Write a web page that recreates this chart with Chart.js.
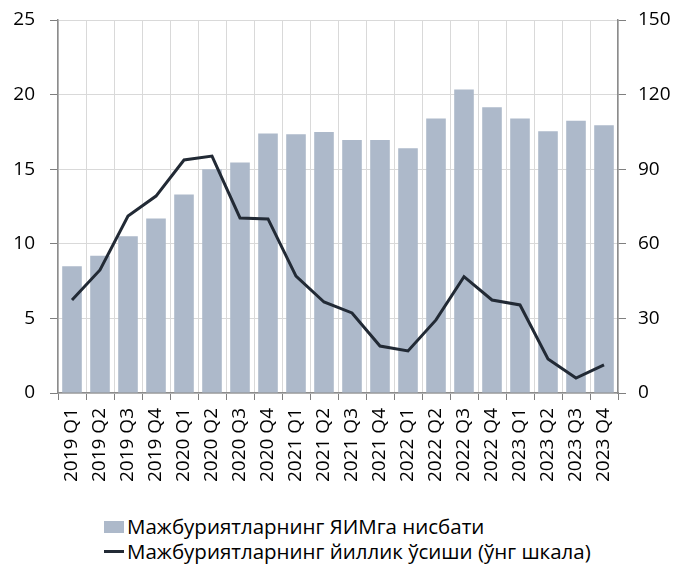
<!DOCTYPE html>
<html>
<head>
<meta charset="utf-8">
<script src="https://cdn.jsdelivr.net/npm/chart.js@4"></script>
<style>
  body { margin: 0; background: #fff; font-family: "Open Sans", sans-serif; }
  #wrap { position: relative; width: 676px; height: 564px; }
  #legend { position: absolute; left: 104px; top: 514px; font-size: 20.5px; color: #000; line-height: 25px; }
  .item { display: flex; align-items: center; white-space: nowrap; }
  .sw { display: inline-block; width: 20px; margin-right: 3px; }
</style>
</head>
<body>
<div id="wrap">
  <canvas id="chart" width="676" height="500"></canvas>
  <div id="legend"></div>
</div>
<script>
const labels = ['2019 Q1', '2019 Q2', '2019 Q3', '2019 Q4', '2020 Q1', '2020 Q2', '2020 Q3', '2020 Q4',
  '2021 Q1', '2021 Q2', '2021 Q3', '2021 Q4', '2022 Q1', '2022 Q2', '2022 Q3', '2022 Q4',
  '2023 Q1', '2023 Q2', '2023 Q3', '2023 Q4']

// ratio to GDP, left scale
const ratio = [8.5, 9.2, 10.5, 11.7, 13.3, 15.0, 15.45, 17.4, 17.35, 17.5, 16.95, 16.95,
  16.4, 18.4, 20.35, 19.15, 18.4, 17.55, 18.25, 17.95]
// annual growth, right scale
const growth = [37.4, 49.5, 71.2, 79.2, 93.7, 95.3, 70.4, 70.0, 47.0, 36.6, 32.2, 18.9,
  16.9, 29.4, 46.8, 37.4, 35.4, 13.7, 6.0, 11.3]

const leftTicks = [0, 5, 10, 15, 20, 25]
const rightTicks = [0, 30, 60, 90, 120, 150]

const names = ['Мажбуриятларнинг ЯИМга нисбати', 'Мажбуриятларнинг йиллик ўсиши (ўнг шкала)']

const barColor = '#adb9ca'
const lineColor = '#222a35'
const tickFont = { family: '"Open Sans", sans-serif', size: 19 }

// fixed widths, and keep the tick padding from pushing the plot down
function fitY(s) {
    s.width = 58
    s.paddingTop = 12
    s.paddingBottom = 12
}

const ctx = document.getElementById('chart')

new Chart(ctx, {
    type: 'bar',
    data: {
        labels: labels,
        datasets: [{
            type: 'line',
            label: names[1],
            data: growth,
            yAxisID: 'y1',
            borderColor: lineColor,
            borderWidth: 3,
            pointRadius: 0,
            tension: 0
        }, {
            label: names[0],
            data: ratio,
            yAxisID: 'y',
            backgroundColor: barColor,
            barPercentage: 0.7,
            categoryPercentage: 1
        }]
    },
    options: {
        responsive: false,
        animation: false,
        layout: { padding: { top: 20, right: 0, left: 0, bottom: 0 } },
        plugins: {
            legend: { display: false },
            tooltip: { enabled: false }
        },
        scales: {
            x: {
                offset: true,
                grid: { offset: true, color: '#d9d9d9', tickColor: '#7f7f7f', tickLength: 7 },
                border: { color: '#8c8c8c', width: 1.5 },
                ticks: { color: '#000', font: tickFont, maxRotation: 90, minRotation: 90, padding: 8, autoSkip: false },
                afterFit: s => { s.height = 107 }
            },
            y: {
                position: 'left',
                min: 0, max: 25,
                afterBuildTicks: s => { s.ticks = leftTicks.map(v => ({ value: v })) },
                grid: { color: '#d9d9d9', tickColor: '#7f7f7f', tickLength: 8 },
                border: { color: '#8c8c8c', width: 1.5 },
                ticks: { color: '#000', font: tickFont, padding: 15 },
                afterFit: fitY
            },
            y1: {
                position: 'right',
                min: 0, max: 150,
                afterBuildTicks: s => { s.ticks = rightTicks.map(v => ({ value: v })) },
                grid: { drawOnChartArea: false, tickColor: '#7f7f7f', tickLength: 8 },
                border: { color: '#8c8c8c', width: 1.5 },
                ticks: { color: '#000', font: tickFont, padding: 12 },
                afterFit: fitY
            }
        }
    }
})

// legend in the reference is left aligned, two rows
const legend = document.getElementById('legend')
legend.innerHTML =
    '<div class="item"><span class="sw" style="height:12px;background:' + barColor + '"></span>' + names[0] + '</div>' +
    '<div class="item"><span class="sw" style="height:3px;background:' + lineColor + '"></span>' + names[1] + '</div>'
</script>
</body>
</html>
